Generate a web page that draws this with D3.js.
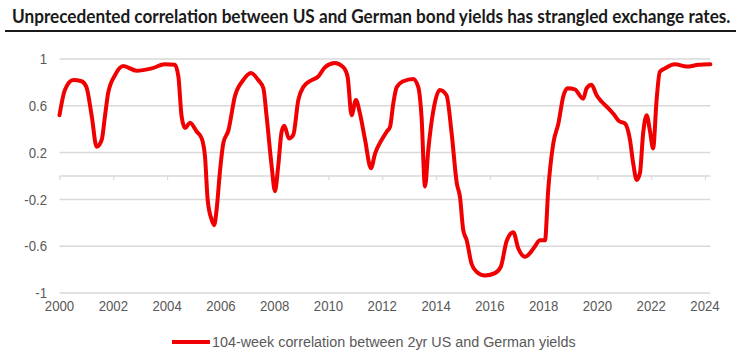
<!DOCTYPE html>
<html>
<head>
<meta charset="utf-8">
<script src="https://cdn.jsdelivr.net/npm/d3@7"></script>
<style>
  body { margin: 0; background: #fff; }
  svg { display: block; }
</style>
</head>
<body>
<div id="chart"></div>
<script>
const width = 741;
const height = 354;

const titleText = "Unprecedented correlation between US and German bond yields has strangled exchange rates.";
const seriesName = "104-week correlation between 2yr US and German yields";

const yTicks = [1, 0.6, 0.2, -0.2, -0.6, -1];
const xTicks = [2000, 2002, 2004, 2006, 2008, 2010, 2012, 2014, 2016, 2018, 2020, 2022, 2024];

// decimal years and correlation values
const dates = [
  2000.0, 2000.2, 2000.51, 2000.82, 2001.0, 2001.2, 2001.38, 2001.57, 2001.69, 2001.81,
  2002.06, 2002.37, 2002.87, 2003.43, 2003.92, 2004.29, 2004.42, 2004.54, 2004.67, 2004.85,
  2005.1, 2005.29, 2005.41, 2005.51, 2005.66, 2005.75, 2005.84, 2005.97, 2006.09, 2006.28,
  2006.52, 2006.83, 2007.12, 2007.39, 2007.58, 2007.7, 2007.89, 2008.01, 2008.13, 2008.26,
  2008.36, 2008.53, 2008.69, 2008.88, 2009.06, 2009.38, 2009.62, 2009.87, 2010.24, 2010.55,
  2010.71, 2010.86, 2011.02, 2011.17, 2011.36, 2011.58, 2011.73, 2011.98, 2012.17, 2012.29,
  2012.41, 2012.54, 2012.78, 2013.15, 2013.34, 2013.46, 2013.59, 2013.71, 2013.9, 2014.14,
  2014.39, 2014.58, 2014.77, 2014.89, 2015.01, 2015.14, 2015.32, 2015.51, 2015.82, 2016.19,
  2016.41, 2016.62, 2016.87, 2017.06, 2017.31, 2017.49, 2017.68, 2017.86, 2018.05, 2018.17,
  2018.36, 2018.55, 2018.73, 2018.89, 2019.16, 2019.47, 2019.6, 2019.78, 2019.97, 2020.16,
  2020.4, 2020.6, 2020.8, 2021.02, 2021.21, 2021.33, 2021.46, 2021.58, 2021.7, 2021.83,
  2021.95, 2022.07, 2022.2, 2022.32, 2022.51, 2022.88, 2023.32, 2023.75, 2024.2
];
const corr = [
  0.52, 0.735, 0.82, 0.81, 0.76, 0.51, 0.25, 0.31, 0.51, 0.71,
  0.86, 0.94, 0.90, 0.92, 0.955, 0.95, 0.85, 0.51, 0.41, 0.455,
  0.38, 0.32, 0.165, -0.205, -0.376, -0.42, -0.29, 0.05, 0.28, 0.39,
  0.68, 0.82, 0.88, 0.82, 0.75, 0.51, 0.08, -0.13, 0.08, 0.38,
  0.43, 0.32, 0.35, 0.65, 0.76, 0.82, 0.85, 0.93, 0.965, 0.93,
  0.85, 0.52, 0.65, 0.535, 0.31, 0.066, 0.19, 0.31, 0.38, 0.42,
  0.62, 0.76, 0.81, 0.83, 0.76, 0.51, -0.09, 0.22, 0.56, 0.735,
  0.69, 0.365, -0.06, -0.18, -0.46, -0.55, -0.75, -0.82, -0.85, -0.83,
  -0.775, -0.56, -0.48, -0.62, -0.69, -0.66, -0.60, -0.55, -0.55, -0.12,
  0.28, 0.45, 0.68, 0.75, 0.74, 0.66, 0.75, 0.78, 0.69, 0.635,
  0.58, 0.53, 0.47, 0.45, 0.31, 0.11, -0.034, 0.023, 0.365, 0.52,
  0.39, 0.236, 0.65, 0.89, 0.92, 0.955, 0.935, 0.95, 0.955
];

const data = dates.map((d, i) => ({ date: d, value: corr[i] }));

const left = 59.5;

// 2024 tick sits at ~705px, line runs on a little past it
const x = d3.scaleLinear()
  .domain([2000, 2024])
  .range([left, 705]);

const y = d3.scaleLinear()
  .domain([-1, 1])
  .range([293, 59]);

const svg = d3.select("#chart")
  .append("svg")
  .attr("width", width)
  .attr("height", height);

// squeeze a text horizontally so it fills a given width (stand-in for a narrow font)
function fitWidth(sel, x0, y0, target, anchor) {
  const w = sel.node().getComputedTextLength();
  const k = target / w;
  sel.attr("x", 0).attr("y", 0)
    .attr("text-anchor", anchor || "start")
    .attr("transform", `translate(${x0},${y0}) scale(${k},1)`);
}

// title
const title = svg.append("text")
  .style("font-family", "Lato, 'Open Sans', sans-serif")
  .style("font-weight", "bold")
  .style("font-size", "18px")
  .style("fill", "#1a1a1a")
  .text(titleText);
fitWidth(title, 12, 23, 719);

svg.append("line")
  .attr("x1", 5)
  .attr("x2", 736)
  .attr("y1", 31)
  .attr("y2", 31)
  .attr("stroke", "#1a1a1a")
  .attr("stroke-width", 2);

const xEnd = x(2024.2);

// gridlines
svg.append("g")
  .selectAll("line")
  .data(yTicks)
  .join("line")
  .attr("x1", left)
  .attr("x2", xEnd)
  .attr("y1", d => y(d))
  .attr("y2", d => y(d))
  .attr("stroke", "#d9d9d9")
  .attr("stroke-width", 1.5);

// zero axis with ticks
const xAxis = d3.axisBottom(x)
  .tickValues(xTicks)
  .tickSize(4)
  .tickFormat("");

const gx = svg.append("g")
  .attr("transform", `translate(0,${y(0)})`)
  .call(xAxis);
gx.select(".domain")
  .attr("d", `M${left},0H${xEnd}`)
  .attr("stroke", "#d9d9d9")
  .attr("stroke-width", 1.5);
gx.selectAll(".tick line")
  .attr("stroke", "#d9d9d9")
  .attr("stroke-width", 1.2);

const labelFont = "'Liberation Sans', Arial, sans-serif";
const squeeze = 0.88;

// y labels
svg.append("g")
  .selectAll("text")
  .data(yTicks)
  .join("text")
  .attr("transform", d => `translate(47,${y(d)}) scale(${squeeze},1)`)
  .attr("dy", "0.35em")
  .attr("text-anchor", "end")
  .style("font-family", labelFont)
  .style("font-size", "15px")
  .style("fill", "#595959")
  .text(d => String(d));

// x labels
svg.append("g")
  .selectAll("text")
  .data(xTicks)
  .join("text")
  .attr("transform", d => `translate(${x(d)},311) scale(${squeeze},1)`)
  .attr("text-anchor", "middle")
  .style("font-family", labelFont)
  .style("font-size", "15px")
  .style("fill", "#595959")
  .text(d => d);

// series line
const line = d3.line()
  .x(d => x(d.date))
  .y(d => y(d.value))
  .curve(d3.curveMonotoneX);

svg.append("path")
  .datum(data)
  .attr("fill", "none")
  .attr("stroke", "#f00000")
  .attr("stroke-width", 4)
  .attr("stroke-linejoin", "round")
  .attr("stroke-linecap", "round")
  .attr("d", line);

// legend
svg.append("line")
  .attr("x1", 172)
  .attr("x2", 210)
  .attr("y1", 342)
  .attr("y2", 342)
  .attr("stroke", "#f00000")
  .attr("stroke-width", 4);

const legendText = svg.append("text")
  .attr("dy", "0.35em")
  .style("font-family", labelFont)
  .style("font-size", "15px")
  .style("fill", "#595959")
  .text(seriesName);
fitWidth(legendText, 212, 342, 364);
</script>
</body>
</html>
